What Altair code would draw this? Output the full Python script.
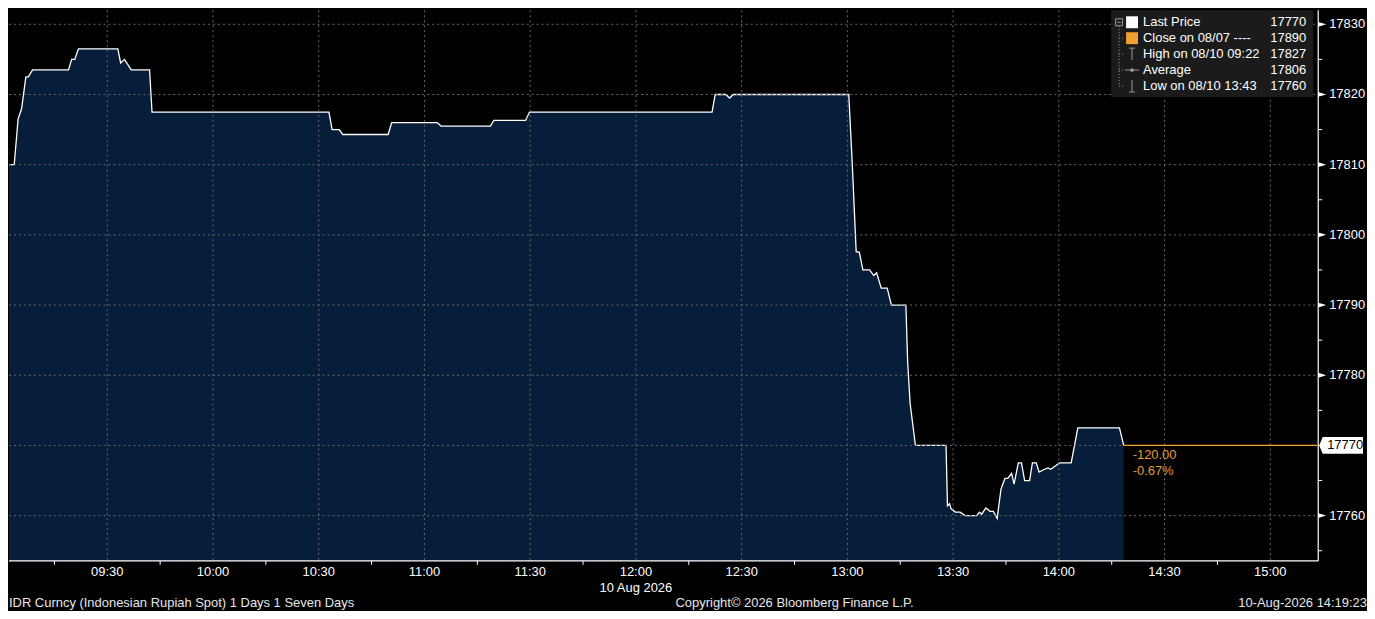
import altair as alt
import pandas as pd

DAY = "2026-08-10"

# ---- price series ----
TIMES = [
    "09:00:00", "09:00:48", "09:03:36", "09:04:42", "09:05:42", "09:06:54", "09:07:36",
    "09:08:48", "09:19:00", "09:19:54", "09:20:48", "09:21:48", "09:33:00", "09:33:48",
    "09:34:54", "09:36:48", "09:42:00", "09:42:42", "10:32:54", "10:33:48", "10:35:48",
    "10:36:48", "10:49:42", "10:50:42", "11:03:36", "11:04:42", "11:18:42", "11:19:42",
    "11:28:42", "11:29:48", "12:21:36", "12:22:30", "12:25:30", "12:26:36", "12:27:36",
    "13:00:24", "13:01:24", "13:02:30", "13:03:24", "13:04:24", "13:06:18", "13:07:30",
    "13:08:18", "13:09:36", "13:11:18", "13:12:30", "13:16:36", "13:17:06", "13:17:48",
    "13:19:18", "13:28:00", "13:28:24", "13:29:00", "13:29:24", "13:30:36", "13:32:00",
    "13:33:24", "13:36:42", "13:37:30", "13:38:06", "13:39:18", "13:40:30", "13:41:24",
    "13:42:30", "13:43:36", "13:44:42", "13:45:30", "13:46:36", "13:47:18", "13:48:30",
    "13:49:24", "13:50:18", "13:51:42", "13:52:30", "13:53:36", "13:54:24", "13:55:30",
    "13:56:54", "13:57:42", "13:58:48", "14:00:12", "14:03:30", "14:05:24", "14:17:12",
    "14:18:24",
]
PRICES = [
    17811.5, 17810, 17810, 17816.5, 17818, 17822.5, 17822.5,
    17823.5, 17823.5, 17825, 17825, 17826.5, 17826.5, 17824.5,
    17825, 17823.5, 17823.5, 17817.5, 17817.5, 17815, 17815,
    17814.3, 17814.3, 17816, 17816, 17815.5, 17815.5, 17816.3,
    17816.3, 17817.5, 17817.5, 17820, 17820, 17819.5, 17820,
    17820, 17810, 17797.6, 17797.5, 17795, 17795, 17794.2,
    17794.6, 17792.4, 17792.4, 17790, 17790, 17782, 17776,
    17770, 17770, 17761.4, 17761.7, 17761, 17760.5, 17760.5,
    17760, 17760, 17760.5, 17760.2, 17761.1, 17760.6, 17760.6,
    17759.6, 17763.8, 17765.3, 17765.3, 17766, 17764.5, 17767.5,
    17767.5, 17765, 17765, 17767.5, 17767.5, 17766.2, 17766.5,
    17766.8, 17766.6, 17767, 17767.5, 17767.5, 17772.5, 17772.5,
    17770,
]

X_START, X_END = "09:02:07", "15:13:36"
X_MAJOR = ["09:30", "10:00", "10:30", "11:00", "11:30", "12:00", "12:30",
           "13:00", "13:30", "14:00", "14:30", "15:00"]
X_MINOR = ["09:15", "09:45", "10:15", "10:45", "11:15", "11:45", "12:15",
           "12:45", "13:15", "13:45", "14:15", "14:45"]
Y_MAJOR = [17760, 17770, 17780, 17790, 17800, 17810, 17820, 17830]
Y_MINOR = [17755, 17765, 17775, 17785, 17795, 17805, 17815, 17825]
Y_MIN, Y_MAX = 17753.55, 17831.99

LAST = 17770
CLOSE_PREV = 17890
LEGEND_LABELS = ["Last Price", "Close on 08/07 ----", "High on 08/10 09:22",
                 "Average", "Low on 08/10 13:43"]
LEGEND_VALUES = ["17770", "17890", "17827", "17806", "17760"]

FOOT_LEFT = "IDR Curncy (Indonesian Rupiah Spot) 1 Days 1 Seven Days"
FOOT_MID = "Copyright\u00a9 2026 Bloomberg Finance L.P."
FOOT_RIGHT = "10-Aug-2026 14:19:23"
DATE_LABEL = "10 Aug 2026"

# ---- styling ----
W, H = 1315, 553
FONT = "Liberation Sans"
NAVY = "#061e39"
GRID = "#6a6a6a"
ORANGE = "#f0a030"
ORANGE_TXT = "#e39a35"
LEG_BG = "#1b1b1b"
ICON = "#9a9a9a"
FOOT = "#e6e6e6"


def dt(hm):
    parts = [int(p) for p in hm.split(":")]
    while len(parts) < 3:
        parts.append(0)
    return alt.DateTime(year=2026, month=8, date=10, hours=parts[0],
                        minutes=parts[1], seconds=parts[2])


def stamp(hm):
    return f"{DAY}T{hm}:00" if hm.count(":") == 1 else f"{DAY}T{hm}"


df = pd.DataFrame({"t": [stamp(t) for t in TIMES], "price": PRICES})

x_scale = alt.Scale(domain=[dt(X_START), dt(X_END)])
y_scale = alt.Scale(domain=[Y_MIN, Y_MAX], nice=False, zero=False)

area = alt.Chart(df).mark_area(
    color=NAVY, opacity=1, clip=True,
    line={"color": "white", "strokeWidth": 1.3},
).encode(
    x=alt.X("t:T", scale=x_scale, axis=None),
    y=alt.Y("price:Q", scale=y_scale, axis=None),
    y2=alt.datum(Y_MIN),
)

# grid lines drawn above the area
vgrid = alt.Chart(pd.DataFrame({"t": [stamp(t) for t in X_MAJOR]})).mark_rule(
    color=GRID, strokeDash=[2, 3], strokeWidth=1
).encode(x=alt.X("t:T", axis=None), y=alt.value(0), y2=alt.value(H))
hgrid = alt.Chart(pd.DataFrame({"v": Y_MAJOR})).mark_rule(
    color=GRID, strokeDash=[2, 3], strokeWidth=1
).encode(y=alt.Y("v:Q", axis=None), x=alt.value(0), x2=alt.value(W))

# axis lines
x_domain = alt.Chart(pd.DataFrame({"a": [0]})).mark_rule(color="white", strokeWidth=1.2).encode(
    x=alt.value(0), x2=alt.value(W), y=alt.value(H))
y_domain = alt.Chart(pd.DataFrame({"a": [0]})).mark_rule(color="white", strokeWidth=1.2).encode(
    x=alt.value(W), y=alt.value(0), y2=alt.value(H))

# minor ticks
xminor = alt.Chart(pd.DataFrame({"t": [stamp(t) for t in X_MINOR]})).mark_rule(
    color="white", strokeWidth=1
).encode(x=alt.X("t:T", axis=None), y=alt.value(H), y2=alt.value(H + 4))
yminor = alt.Chart(pd.DataFrame({"v": Y_MINOR})).mark_rule(
    color="white", strokeWidth=1
).encode(y=alt.Y("v:Q", axis=None), x=alt.value(W), x2=alt.value(W + 4))

# tick labels
xlabels = alt.Chart(pd.DataFrame({"t": [stamp(t) for t in X_MAJOR], "lab": X_MAJOR})).mark_text(
    align="center", baseline="middle", font=FONT, fontSize=13, color="white"
).encode(x=alt.X("t:T", axis=None), y=alt.value(H + 11), text="lab:N")
ylab_vals = [v for v in Y_MAJOR if v != LAST]
ylabels = alt.Chart(pd.DataFrame({"v": ylab_vals, "lab": [str(v) for v in ylab_vals]})).mark_text(
    align="left", baseline="middle", font=FONT, fontSize=13, color="white"
).encode(y=alt.Y("v:Q", axis=None), x=alt.value(W + 11), text="lab:N")

arrows = alt.Chart(pd.DataFrame({"v": ylab_vals})).mark_point(
    shape="M-1,-0.6L1,0L-1,0.6Z", filled=True, color="white", opacity=1, size=64
).encode(x=alt.value(W + 4), y=alt.Y("v:Q", axis=None))

last_t = stamp(TIMES[-1])
end_t = stamp(X_END)

close_rule = alt.Chart(pd.DataFrame({"t0": [last_t], "t1": [end_t], "v": [LAST]})).mark_rule(
    color=ORANGE, strokeWidth=1.2
).encode(
    x=alt.X("t0:T", axis=None), x2="t1:T", y=alt.Y("v:Q", axis=None)
)

chg = LAST - CLOSE_PREV
pct = chg / CLOSE_PREV * 100
chg_df = pd.DataFrame({"t": [last_t], "v": [LAST]})
chg_text = alt.Chart(chg_df).mark_text(
    text=f"{chg:.2f}", align="left", baseline="middle", dx=9, dy=10,
    font=FONT, fontSize=13, color=ORANGE_TXT
).encode(x=alt.X("t:T", axis=None), y=alt.Y("v:Q", axis=None))
pct_text = alt.Chart(chg_df).mark_text(
    text=f"{pct:.2f}%", align="left", baseline="middle", dx=9, dy=26,
    font=FONT, fontSize=13, color=ORANGE_TXT
).encode(x=alt.X("t:T", axis=None), y=alt.Y("v:Q", axis=None))

tag_df = pd.DataFrame({"v": [LAST], "lab": [str(LAST)]})
tag = alt.Chart(tag_df).mark_point(
    shape="M-1,0L-0.84,-0.38L1,-0.38L1,0.38L-0.84,0.38Z", filled=True,
    color="white", opacity=1, size=44 * 44
).encode(x=alt.value(W + 23), y=alt.Y("v:Q", axis=None))
tag_text = alt.Chart(tag_df).mark_text(
    align="left", baseline="middle", font=FONT, fontSize=13, color="black"
).encode(x=alt.value(W + 9), y=alt.Y("v:Q", axis=None), text="lab:N")

date_text = alt.Chart(pd.DataFrame({"t": [stamp("12:00")]})).mark_text(
    text=DATE_LABEL, align="center", baseline="middle", font=FONT, fontSize=13, color="white"
).encode(x=alt.X("t:T", axis=None), y=alt.value(H + 27))

one = pd.DataFrame({"a": [0]})


def vtext(txt, x, y, align="left", color="white", size=13):
    return alt.Chart(one).mark_text(
        text=txt, align=align, baseline="middle", font=FONT, fontSize=size, color=color
    ).encode(x=alt.value(x), y=alt.value(y))


def vrect(x, x2, y, y2, color):
    return alt.Chart(one).mark_rect(color=color, opacity=1).encode(
        x=alt.value(x), x2=alt.value(x2), y=alt.value(y), y2=alt.value(y2))


def vrule(x, x2, y, y2, color, dash=None, width=1):
    kw = {"color": color, "strokeWidth": width}
    if dash:
        kw["strokeDash"] = dash
    return alt.Chart(one).mark_rule(**kw).encode(
        x=alt.value(x), x2=alt.value(x2), y=alt.value(y), y2=alt.value(y2))


foot_y = H + 42
footer = [
    vtext(FOOT_LEFT, 0, foot_y, "left", FOOT, 13),
    vtext(FOOT_MID, 789, foot_y, "center", FOOT, 13),
    vtext(FOOT_RIGHT, 1364, foot_y, "right", FOOT, 13),
]

# legend box (top right)
LX = W - 208
rows = [12, 28, 44, 60, 76]
ic = LX + 21
legend = [vrect(LX, LX + 203, 0, 87, LEG_BG)]
legend.append(vrule(LX + 8, LX + 8, 16, rows[4], ICON, [1, 2]))
for ry in rows[1:]:
    legend.append(vrule(LX + 8, LX + 14, ry, ry, ICON, [1, 2]))
legend.append(alt.Chart(one).mark_point(shape="square", filled=False, color=ICON, size=49,
                                        opacity=1, strokeWidth=1).encode(
    x=alt.value(LX + 8), y=alt.value(rows[0])))
legend.append(vrule(LX + 6, LX + 10, rows[0], rows[0], ICON))
legend.append(vrect(ic - 6, ic + 6, rows[0] - 6, rows[0] + 6, "white"))
legend.append(vrect(ic - 6, ic + 6, rows[1] - 6, rows[1] + 6, ORANGE))
legend.append(vrule(ic, ic, rows[2] - 6, rows[2] + 6, ICON))
legend.append(vrule(ic - 3, ic + 3, rows[2] - 6, rows[2] - 6, ICON))
legend.append(vrule(ic - 7, ic + 7, rows[3], rows[3], ICON))
legend.append(alt.Chart(one).mark_point(shape="circle", filled=True, color=ICON, size=14,
                                        opacity=1).encode(
    x=alt.value(ic), y=alt.value(rows[3])))
legend.append(vrule(ic, ic, rows[4] - 6, rows[4] + 6, ICON))
legend.append(vrule(ic - 3, ic + 3, rows[4] + 6, rows[4] + 6, ICON))
for ry, lab, val in zip(rows, LEGEND_LABELS, LEGEND_VALUES):
    legend.append(vtext(lab, LX + 32, ry, "left", "white", 13))
    legend.append(vtext(val, LX + 196, ry, "right", "white", 13))

chart = alt.layer(
    area, vgrid, hgrid, x_domain, y_domain, xminor, yminor, xlabels, ylabels, arrows,
    close_rule, chg_text, pct_text, tag, tag_text, date_text, *footer, *legend
).properties(
    width=W, height=H, padding=0, background="#000000"
).configure_view(strokeWidth=0)

chart.save("out.html", embed_options={"renderer": "svg", "actions": False})
